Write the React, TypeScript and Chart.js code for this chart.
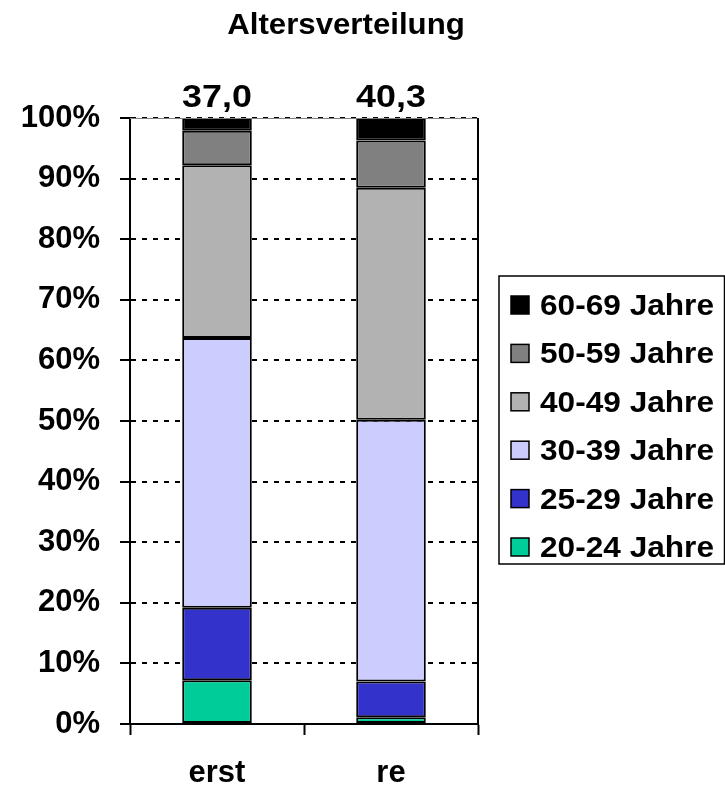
import React, { useEffect, useRef } from "react";
import { Chart, registerables } from "chart.js";

Chart.register(...registerables);

// ---- data ----
const chartTitle = "Altersverteilung";
const categories = ["erst", "re"];
const seriesLabels = ["20-24 Jahre", "25-29 Jahre", "30-39 Jahre", "40-49 Jahre", "50-59 Jahre", "60-69 Jahre"];
const age20to24 = [7.2, 1.1];
const age25to29 = [12.0, 5.9];
const age30to39 = [44.5, 43.2];
const age40to49 = [28.5, 38.3];
const age50to59 = [5.7, 7.8];
const age60to69 = [2.1, 3.7];
const averageAge = [37.0, 40.3];
const yTicks = [0, 10, 20, 30, 40, 50, 60, 70, 80, 90, 100];

const seriesValues = [age20to24, age25to29, age30to39, age40to49, age50to59, age60to69];
const seriesColors = ["#00cc99", "#3333cc", "#ccccff", "#b2b2b2", "#808080", "#000000"];

const FONT = "'Liberation Sans', Arial, Helvetica, sans-serif";

// draws text slightly widened horizontally, like the reference rendering
function wideText(ctx: CanvasRenderingContext2D, text: string, x: number, y: number, sx: number, align: CanvasTextAlign) {
  ctx.save();
  ctx.translate(x, y);
  ctx.scale(sx, 1);
  ctx.textAlign = align;
  ctx.fillText(text, 0, 0);
  ctx.restore();
}

const decorations = {
  id: "decorations",
  afterDraw(chart: any) {
    const ctx = chart.ctx as CanvasRenderingContext2D;
    const area = chart.chartArea;
    ctx.save();

    // plot area border (top thin, right dark)
    ctx.strokeStyle = "#808080";
    ctx.lineWidth = 1;
    ctx.beginPath();
    ctx.moveTo(area.left, area.top + 0.5);
    ctx.lineTo(area.right, area.top + 0.5);
    ctx.stroke();
    ctx.strokeStyle = "#000";
    ctx.lineWidth = 2;
    ctx.beginPath();
    ctx.moveTo(area.right, area.top);
    ctx.lineTo(area.right, area.bottom);
    ctx.stroke();

    // title
    ctx.fillStyle = "#000";
    ctx.textBaseline = "alphabetic";
    ctx.font = `bold 30px ${FONT}`;
    wideText(ctx, chartTitle, 346, 34, 1.04, "center");

    // average age above bars
    const topMeta = chart.getDatasetMeta(seriesValues.length - 1);
    ctx.font = `bold 32px ${FONT}`;
    averageAge.forEach((v, i) => {
      const bar = topMeta.data[i];
      const yTop = chart.scales.y.getPixelForValue(100);
      wideText(ctx, v.toFixed(1).replace(".", ","), bar.x, yTop - 11, 1.12, "center");
    });

    // legend
    const lx = 499, ly = 276, lw = 225.5, lh = 288;
    ctx.strokeStyle = "#000";
    ctx.lineWidth = 1.5;
    ctx.strokeRect(lx, ly, lw, lh);
    ctx.font = `bold 29px ${FONT}`;
    const rows = seriesLabels.length;
    for (let r = 0; r < rows; r++) {
      const i = rows - 1 - r;
      const cy = 305 + r * 48.4;
      ctx.fillStyle = seriesColors[i];
      ctx.fillRect(511, cy - 9, 18, 18);
      ctx.strokeStyle = "#000";
      ctx.lineWidth = 1.5;
      ctx.strokeRect(511, cy - 9, 18, 18);
      ctx.fillStyle = "#000";
      wideText(ctx, seriesLabels[i], 540, cy + 10, 1.09, "left");
    }
    ctx.restore();
  },
};

export default function App() {
  const ref = useRef<HTMLCanvasElement>(null);

  useEffect(() => {
    if (!ref.current) return;
    const datasets = seriesLabels.map((label, i) => ({
      label,
      data: seriesValues[i],
      backgroundColor: seriesColors[i],
      borderColor: "#000",
      borderWidth: 2,
      borderSkipped: false,
      categoryPercentage: 0.4,
      barPercentage: 1,
    }));
    const chart = new Chart(ref.current, {
      type: "bar",
      data: { labels: categories, datasets },
      options: {
        animation: false,
        responsive: true,
        maintainAspectRatio: false,
        layout: { padding: { top: 118, right: 247, left: 0, bottom: 0 } },
        plugins: {
          legend: { display: false },
          tooltip: { enabled: false },
          title: { display: false },
        },
        scales: {
          x: {
            stacked: true,
            afterFit: (s: any) => {
              s.height = 63;
            },
            grid: {
              drawOnChartArea: false,
              drawTicks: true,
              tickLength: 11,
              tickColor: "#000",
              tickWidth: 2,
              offset: true,
            },
            border: { color: "#000", width: 2 },
            ticks: { color: "#000", font: { family: FONT, size: 31, weight: "bold" }, padding: 20 },
          },
          y: {
            stacked: true,
            min: 0,
            max: 100,
            afterFit: (s: any) => {
              s.width = 130;
            },
            afterBuildTicks: (s: any) => {
              s.ticks = yTicks.map((v) => ({ value: v }));
            },
            ticks: {
              color: "#000",
              font: { family: FONT, size: 31, weight: "bold" },
              padding: 20,
              callback: (v: any) => `${v}%`,
            },
            grid: {
              color: "#000",
              lineWidth: 2,
              drawTicks: true,
              tickLength: 10,
              tickColor: "#000",
              tickWidth: 2,
              tickBorderDash: [],
            },
            border: { color: "#000", width: 2, dash: [5, 6] },
          },
        },
      } as any,
      plugins: [decorations],
    });
    return () => chart.destroy();
  }, []);

  return (
    <div style={{ position: "absolute", left: 0, top: 0, width: 725, height: 787, background: "#fff" }}>
      <canvas ref={ref} />
    </div>
  );
}
